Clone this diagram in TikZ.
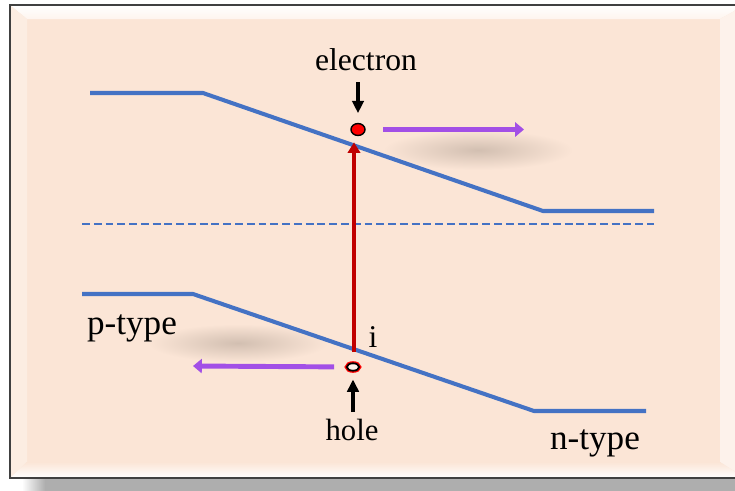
\documentclass[tikz,border=0pt]{standalone}
\usepackage{fontspec}
\setmainfont{Liberation Serif}
\usetikzlibrary{arrows.meta,positioning,shapes.geometric}
\definecolor{BandBlue}{HTML}{4472C4}
\definecolor{PeachBG}{HTML}{FBE5D6}
\definecolor{FrameGrey}{HTML}{404040}
\definecolor{ShadowGrey}{HTML}{AEAEAE}
\definecolor{BlurGrey}{HTML}{D2BFB1}
\definecolor{ExciteRed}{HTML}{C00000}
\definecolor{DriftPurple}{HTML}{A24FE6}

\tikzset{
  band/.style={BandBlue,line width=2.3pt},
  fermi/.style={BandBlue,line width=1.1pt,dash pattern=on 4.5pt off 2.2pt},
  carrier/.style={ellipse,inner sep=0pt,line width=0.8pt},
  pointer/.style={-{Triangle[length=7pt,width=6.5pt]},line width=1.8pt},
  drift/.style={DriftPurple,-{Triangle[length=5pt,width=8pt]},line width=2.8pt},
  excite/.style={ExciteRed,-{Triangle[length=6pt,width=7pt]},line width=2.6pt},
  tag/.style={inner sep=0pt,anchor=base},
}

\begin{document}
\begin{tikzpicture}[x=0.02cm,y=-0.02cm]
  \useasboundingbox (0,0) rectangle (735,491);
  \clip (0,0) rectangle (735,491);
  % frame, drop shadow and bevel
  \shade[left color=white,right color=ShadowGrey] (22,478) rectangle (45,491);
  \fill[ShadowGrey] (45,478) rectangle (740,491);
  \fill[PeachBG] (10,5) rectangle (745,478);
  \shade[top color=white,bottom color=PeachBG!40!white] (10,5) -- (745,5) -- (720,19) -- (27,19) -- cycle;
  \fill[PeachBG!70!white] (10,5) -- (27,19) -- (27,462) -- (10,478) -- cycle;
  \fill[PeachBG!50!white] (745,5) -- (720,19) -- (720,462) -- (745,478) -- cycle;
  \shade[top color=PeachBG,bottom color=white] (10,478) -- (27,462) -- (720,462) -- (745,478) -- cycle;
  \draw[FrameGrey,line width=1.2pt] (10,5) rectangle (745,478);
  % blurred shadows under the drift arrows
  \shade[inner color=BlurGrey,outer color=PeachBG] (478,150) ellipse (95 and 20);
  \shade[inner color=BlurGrey,outer color=PeachBG] (238,343) ellipse (90 and 19);
  % bands
  \draw[band] (90,93) -- (203,93) -- (543,211) -- (654,211);
  \draw[fermi] (82,224) -- (654,224);
  \draw[band] (82,294) -- (193,294) -- (534,411) -- (646,411);
  % carriers
  \node[carrier,draw=black,fill=red,minimum width=8pt,minimum height=6.8pt] (electron) at (358,129.5) {};
  \node[carrier,draw=black,line width=1pt,fill=PeachBG!50!white,
        preaction={draw=red,line width=2.4pt},minimum width=7pt,minimum height=4.2pt] (hole) at (353,367) {};
  % labels
  \node[tag,font=\fontsize{18}{20}\selectfont] (electronlbl) at (366,70) {electron};
  \node[tag,font=\fontsize{17.5}{20}\selectfont] (holelbl) at (352,440) {hole};
  \node[tag,font=\fontsize{20}{22}\selectfont] (ptype) at (132,334) {p-type};
  \node[tag,font=\fontsize{20}{22}\selectfont] (ntype) at (595,449) {n-type};
  \node[tag,font=\fontsize{18}{20}\selectfont] (ilbl) at (373,347) {i};
  % arrows
  \coordinate (etail) at (358,82);
  \coordinate (htail) at (353,412);
  \coordinate (edrift) at (524,129.5);
  \coordinate (hdrift) at (193,366);
  \coordinate (gen) at (354,352);
  \draw[pointer] (etail) -- (electron) [shorten >=5.5pt];
  \draw[pointer,shorten >=4.5pt] (htail) -- (hole);
  \draw[drift,shorten <=10pt] (electron) -- (edrift);
  \draw[drift,shorten <=6.8pt] (hole) -- (hdrift);
  \draw[excite,shorten >=3.5pt] (gen) -- (gen |- electron.south);
\end{tikzpicture}
\end{document}
